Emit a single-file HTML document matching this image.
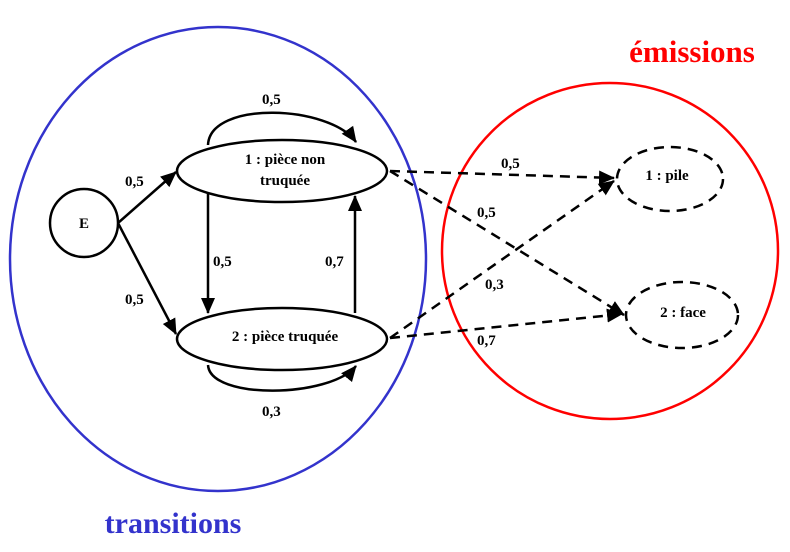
<!DOCTYPE html>
<html><head><meta charset="utf-8"><style>
body{margin:0;background:#fff}
svg text{font-family:"Liberation Serif",serif;font-weight:bold}
</style></head><body>
<svg width="790" height="547" viewBox="0 0 790 547">
<defs>
<marker id="ahb" markerWidth="16" markerHeight="16" refX="15" refY="8" orient="auto" markerUnits="userSpaceOnUse"><path d="M0,1 L16,8 L0,15 z" fill="#000"/></marker>
</defs>
<ellipse cx="218" cy="259" rx="208" ry="232" fill="none" stroke="#3333cc" stroke-width="2.5"/>
<ellipse cx="610" cy="251" rx="168" ry="168" fill="none" stroke="#ff0000" stroke-width="2.5"/>
<text x="692" y="62" font-size="31" fill="#ff0000" text-anchor="middle">émissions</text>
<text x="173" y="533" font-size="30" fill="#3333cc" text-anchor="middle">transitions</text>
<g stroke="#000" stroke-width="2.5" fill="none">
<circle cx="84" cy="223" r="34"/>
<ellipse cx="282" cy="171" rx="105" ry="31"/>
<ellipse cx="282" cy="339" rx="105" ry="31"/>
<path d="M118,223 L176,172" marker-end="url(#ahb)"/>
<path d="M118,223 L176,334" marker-end="url(#ahb)"/>
<path d="M208,145 C210,100 330,105 356,142" marker-end="url(#ahb)"/>
<path d="M208,365 C210,400 330,398 356,366" marker-end="url(#ahb)"/>
<path d="M208,193 L208,313" marker-end="url(#ahb)"/>
<path d="M355,313 L355,196" marker-end="url(#ahb)"/>
<g stroke-dasharray="10,7">
<ellipse cx="670" cy="179" rx="53" ry="32"/>
<ellipse cx="682" cy="315" rx="56" ry="33"/>
<path d="M390,171 L614,178" marker-end="url(#ahb)"/>
<path d="M390,171 L624,315" marker-end="url(#ahb)"/>
<path d="M390,338 L614,181" marker-end="url(#ahb)"/>
<path d="M390,338 L622,314" marker-end="url(#ahb)"/>
</g>
</g>
<g font-size="15" fill="#000">
<text x="84" y="228" text-anchor="middle">E</text>
<text x="285" y="164" text-anchor="middle">1 : pièce non</text>
<text x="285" y="185" text-anchor="middle">truquée</text>
<text x="285" y="341" text-anchor="middle">2 : pièce truquée</text>
<text x="667" y="180" text-anchor="middle">1 : pile</text>
<text x="683" y="317" text-anchor="middle">2 : face</text>
<text x="125" y="186">0,5</text>
<text x="125" y="304">0,5</text>
<text x="262" y="104">0,5</text>
<text x="262" y="416">0,3</text>
<text x="213" y="266">0,5</text>
<text x="325" y="266">0,7</text>
<text x="501" y="168">0,5</text>
<text x="477" y="217">0,5</text>
<text x="485" y="289">0,3</text>
<text x="477" y="345">0,7</text>
</g>
</svg>
</body></html>
